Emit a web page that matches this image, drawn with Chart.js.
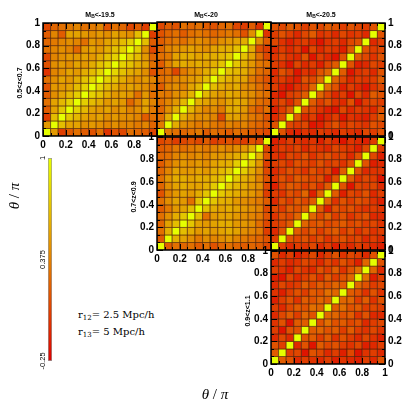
<!DOCTYPE html>
<html><head><meta charset="utf-8">
<script src="https://cdn.jsdelivr.net/npm/chart.js@4.4.0/dist/chart.umd.min.js"></script>
<style>
html,body{margin:0;padding:0;background:#fff;width:407px;height:407px;overflow:hidden}
#wrap{position:relative;width:407px;height:407px}
canvas{position:absolute}
.t{position:absolute;white-space:nowrap;font-family:"Liberation Sans",Arial,sans-serif;color:#000;line-height:1}
.rot{transform:translate(-50%,-50%) rotate(-90deg)}
.ctr{transform:translate(-50%,-50%)}
sub{font-size:70%;vertical-align:-0.25em;line-height:0}
</style></head><body><div id="wrap"></div>
<script>
// ---- data ----
const gridCells = 15;
const axisTicks = [0, 0.2, 0.4, 0.6, 0.8, 1];
const colorMin = -0.25, colorMax = 1;
const colorbarTicks = [-0.25, 0.375, 1];
const colorbarTickLabels = ['-0.25', '0.375', '1'];
const magnitudeTitles = ['-19.5', '-20', '-20.5'];
const redshiftLabels = ['0.5<z<0.7', '0.7<z<0.9', '0.9<z<1.1'];
const scaleTexts = [['12', '= 2.5 Mpc/h'], ['13', '= 5 Mpc/h']];

// lower triangles: row i holds correlation with columns 0..i-1 (diagonal = 1)
const corrM195z06 = [
 [0.5],
 [0.05,0.68],
 [0.2,0.55,0.73],
 [0.3,0.55,0.65,0.78],
 [0.2,0.45,0.55,0.65,0.76],
 [0.15,0.5,0.5,0.55,0.67,0.78],
 [0.3,0.45,0.55,0.5,0.6,0.7,0.8],
 [0.0,0.4,0.45,0.55,0.5,0.6,0.67,0.78],
 [0.15,0.45,0.5,0.45,0.55,0.5,0.6,0.7,0.8],
 [0.1,0.4,0.45,0.5,0.5,0.55,0.5,0.6,0.7,0.78],
 [0.3,0.4,0.45,0.4,0.25,0.5,0.55,0.5,0.6,0.7,0.78],
 [0.25,0.35,0.4,0.45,0.4,0.3,0.5,0.45,0.55,0.6,0.67,0.76],
 [0.2,0.4,0.2,0.55,0.55,0.5,0.45,0.5,0.45,0.55,0.5,0.45,0.68],
 [0.1,0.25,0.3,0.35,0.4,0.3,0.35,0.4,0.15,0.3,0.25,0.1,0.2,0.05]
];
const corrM20z06 = [
 [0.35],
 [0.3,0.6],
 [0.25,0.45,0.62],
 [0.3,0.4,0.5,0.65],
 [0.35,0.35,0.45,0.5,0.62],
 [0.2,0.4,0.45,0.4,0.55,0.65],
 [0.3,0.35,0.4,0.45,0.5,0.55,0.68],
 [0.25,0.3,0.1,0.35,0.45,0.5,0.6,0.7],
 [0.2,0.4,0.55,0.6,0.55,0.6,0.55,0.62,0.7],
 [0.3,0.35,0.55,0.6,0.6,0.55,0.6,0.6,0.65,0.72],
 [0.25,0.4,0.45,0.5,0.55,0.5,0.45,0.55,0.6,0.62,0.7],
 [0.2,0.3,0.35,0.3,0.4,0.45,0.4,0.35,0.45,0.5,0.55,0.6],
 [0.15,0.25,0.3,0.2,0.3,0.35,0.3,0.25,0.3,0.35,0.3,0.15,0.45],
 [0.1,0.2,0.15,0.3,0.25,0.3,0.2,0.15,0.25,0.3,0.1,0.05,0.2,0.0]
];
const corrM205z06 = [
 [0.15],
 [-0.05,0.1],
 [-0.1,0.05,0.2],
 [0.0,0.1,-0.05,0.15],
 [-0.05,-0.15,0.05,0.1,0.2],
 [0.05,-0.1,-0.15,0.0,0.05,0.25],
 [0.0,0.05,-0.05,-0.1,0.15,0.1,0.3],
 [-0.05,0.15,0.05,-0.15,0.0,-0.05,0.15,0.25],
 [0.05,0.0,-0.15,0.1,-0.05,0.05,-0.1,0.1,0.2],
 [0.0,0.1,0.0,-0.05,0.15,-0.15,0.05,-0.05,-0.15,0.15],
 [-0.05,0.05,-0.05,0.05,-0.15,0.1,-0.05,0.05,0.0,-0.1,0.2],
 [0.1,0.0,-0.1,0.0,0.05,-0.05,-0.15,0.0,0.05,-0.05,0.1,0.15],
 [0.05,0.15,0.05,-0.05,0.1,0.2,0.0,0.05,-0.05,0.1,0.0,0.05,-0.05],
 [0.15,0.1,0.2,0.15,0.05,0.15,0.1,0.2,0.15,0.05,0.15,0.1,0.05,0.15]
];
const corrM20z08 = [
 [0.2],
 [0.3,0.62],
 [0.25,0.55,0.68],
 [0.3,0.45,0.6,0.72],
 [0.2,0.35,0.5,0.55,0.68],
 [0.3,0.45,0.55,0.5,0.3,0.7],
 [0.15,0.4,0.5,0.55,0.5,0.6,0.72],
 [0.25,0.45,0.55,0.6,0.55,0.55,0.62,0.74],
 [0.3,0.5,0.6,0.6,0.55,0.6,0.6,0.65,0.72],
 [0.25,0.4,0.55,0.5,0.5,0.55,0.5,0.6,0.65,0.74],
 [0.2,0.35,0.45,0.5,0.45,0.5,0.45,0.55,0.6,0.62,0.76],
 [0.25,0.3,0.4,0.45,0.4,0.45,0.4,0.5,0.5,0.55,0.6,0.72],
 [0.2,0.25,0.35,0.3,0.35,0.4,0.35,0.4,0.45,0.4,0.45,0.5,0.62],
 [0.1,0.15,0.05,0.1,0.15,0.1,0.2,0.05,0.1,0.15,0.1,0.05,0.15,0.1]
];
const corrM205z08 = [
 [0.05],
 [-0.05,0.15],
 [0.05,0.1,0.2],
 [0.0,0.15,0.1,0.25],
 [0.1,0.05,0.2,0.15,0.25],
 [-0.05,0.15,0.05,0.2,0.1,0.2],
 [0.05,0.0,0.15,0.1,0.25,-0.1,0.25],
 [-0.1,0.1,0.2,0.15,0.05,0.15,0.0,0.2],
 [0.0,0.15,0.05,0.2,0.15,0.1,0.15,-0.1,0.15],
 [-0.05,0.05,0.15,0.1,0.0,0.15,0.05,0.1,-0.15,0.2],
 [0.05,0.1,0.0,0.15,0.1,0.05,0.15,0.05,0.1,0.0,0.15],
 [0.0,-0.05,0.1,0.05,0.15,0.0,0.1,0.15,0.05,0.1,-0.05,0.15],
 [-0.05,0.05,0.0,0.1,-0.05,0.05,0.0,-0.05,0.1,0.05,0.0,-0.1,0.1],
 [-0.1,-0.05,0.05,0.0,-0.05,0.0,-0.1,0.05,-0.05,-0.15,0.0,-0.05,-0.1,0.05]
];
const corrM205z10 = [
 [0.2],
 [0.15,0.05],
 [-0.05,0.1,-0.05],
 [0.05,-0.15,0.15,0.15],
 [0.0,0.15,-0.15,0.2,0.2],
 [-0.05,0.1,0.2,0.05,0.25,0.15],
 [0.05,-0.05,0.1,0.2,0.15,0.3,0.25],
 [-0.1,0.05,0.15,0.0,0.2,0.15,0.25,0.2],
 [0.0,-0.1,0.05,0.15,0.05,0.2,0.15,0.3,0.25],
 [-0.05,0.1,0.0,0.05,0.2,0.1,0.2,0.15,0.25,0.2],
 [-0.1,-0.15,0.1,-0.05,0.05,0.15,0.0,0.2,0.05,0.15,0.25],
 [0.05,0.0,-0.1,0.1,0.0,-0.05,0.15,0.05,0.2,0.0,0.15,0.3],
 [-0.05,0.05,-0.05,0.0,0.1,0.05,-0.05,0.1,0.0,0.15,0.05,-0.1,0.25],
 [0.15,-0.05,0.05,-0.1,0.0,0.1,-0.05,0.05,0.15,0.0,0.1,0.05,-0.05,0.15]
];

// ---- layout ----
const PANEL = 114, LW = 30, RW = 30, TP = 8, BH = 18;
const panels = [
 {tri: corrM195z06, left: 43,  top: 22,  L: true,  R: false, B: true,  hideLast: true},
 {tri: corrM20z06,  left: 157, top: 22,  L: false, R: false, B: false, hideLast: true},
 {tri: corrM205z06, left: 271, top: 22,  L: false, R: true,  B: false, hideLast: true},
 {tri: corrM20z08,  left: 157, top: 136, L: true,  R: false, B: true,  hideLast: true},
 {tri: corrM205z08, left: 271, top: 136, L: false, R: true,  B: false, hideLast: true},
 {tri: corrM205z10, left: 271, top: 250, L: true,  R: true,  B: true,  hideLast: false}
];

function heat(v){
  let t = (v - colorMin) / (colorMax - colorMin);
  t = Math.max(0, Math.min(1, t));
  const r = Math.round(222 + 8 * t), g = Math.round(255 * t);
  return 'rgb(' + r + ',' + g + ',0)';
}
function cellValue(tri, i, j){
  if (i === j) return 1;
  return i > j ? tri[i - 1][j] : tri[j - 1][i];
}
const fmt = v => String(Math.round(v * 10) / 10);
const tickFont = {family: '"Liberation Sans", Arial, sans-serif', size: 10, weight: 'bold'};

const frame = {id: 'frame', afterDatasetsDraw(chart){
  const {ctx, chartArea: a, scales: {x, y}} = chart;
  ctx.save();
  ctx.strokeStyle = '#000'; ctx.lineWidth = 1;
  ctx.beginPath();
  for (let k = 0; k <= gridCells; k++){
    const v = k / gridCells, L = (k % 3 === 0) ? 6 : 3;
    const px = Math.round(x.getPixelForValue(v)) + 0.5, py = Math.round(y.getPixelForValue(v)) + 0.5;
    ctx.moveTo(px, a.bottom); ctx.lineTo(px, a.bottom - L);
    ctx.moveTo(px, a.top); ctx.lineTo(px, a.top + L);
    ctx.moveTo(a.left, py); ctx.lineTo(a.left + L, py);
    ctx.moveTo(a.right, py); ctx.lineTo(a.right - L, py);
  }
  ctx.stroke();
  ctx.lineWidth = 1.5;
  ctx.strokeRect(a.left, a.top, a.right - a.left, a.bottom - a.top);
  ctx.restore();
}};

const wrap = document.getElementById('wrap');
function addCanvas(left, top, w, h){
  const c = document.createElement('canvas');
  c.width = w; c.height = h;
  c.style.left = left + 'px'; c.style.top = top + 'px';
  c.style.width = w + 'px'; c.style.height = h + 'px';
  wrap.appendChild(c);
  return c;
}

panels.forEach(p => {
  const pts = [];
  for (let i = 0; i < gridCells; i++)
    for (let j = 0; j < gridCells; j++)
      pts.push({x: (j + 0.5) / gridCells, y: (i + 0.5) / gridCells, v: cellValue(p.tri, i, j)});
  const cv = addCanvas(p.left - LW, p.top - TP, LW + PANEL + RW, TP + PANEL + BH);
  const yTicks = show => ({display: show, stepSize: 0.2, padding: 3, color: '#000', font: tickFont, callback: fmt});
  new Chart(cv, {
    type: 'scatter',
    data: {datasets: [{
      data: pts,
      pointStyle: 'rect',
      pointRadius: c => {
        const s = c.chart.scales.x;
        return Math.abs(s.getPixelForValue(1 / gridCells) - s.getPixelForValue(0)) / Math.SQRT2;
      },
      backgroundColor: c => heat(c.raw ? c.raw.v : 0),
      borderColor: 'rgba(70,25,0,0.7)',
      borderWidth: 0.8
    }]},
    options: {
      responsive: false, animation: false, events: [],
      layout: {padding: {top: TP, left: 0, right: 0, bottom: 0}},
      plugins: {legend: {display: false}, tooltip: {enabled: false}},
      scales: {
        x: {type: 'linear', min: 0, max: 1, position: 'bottom',
            afterFit: s => { s.height = BH; },
            afterBuildTicks: s => { s.ticks = axisTicks.map(v => ({value: v})); },
            grid: {display: false, drawTicks: false}, border: {display: false},
            ticks: {display: p.B, padding: 3, maxRotation: 0, autoSkip: false, color: '#000', font: tickFont,
                    callback: v => (p.hideLast && v === 1) ? '' : fmt(v)}},
        y: {type: 'linear', min: 0, max: 1, position: 'left',
            afterFit: s => { s.width = LW; },
            afterBuildTicks: s => { s.ticks = axisTicks.map(v => ({value: v})); },
            grid: {display: false, drawTicks: false}, border: {display: false}, ticks: yTicks(p.L)},
        y2: {type: 'linear', min: 0, max: 1, position: 'right',
            afterFit: s => { s.width = RW; },
            afterBuildTicks: s => { s.ticks = axisTicks.map(v => ({value: v})); },
            grid: {display: false, drawTicks: false}, border: {display: false}, ticks: yTicks(p.R)}
      }
    },
    plugins: [frame]
  });
});

// ---- colour bar ----
const cbLabels = {id: 'cbLabels', afterDraw(chart){
  const {ctx, chartArea: a, scales: {y}} = chart;
  ctx.save();
  ctx.fillStyle = '#000';
  ctx.font = '7.5px "Liberation Sans", Arial, sans-serif';
  ctx.textAlign = 'center'; ctx.textBaseline = 'middle';
  colorbarTicks.forEach((v, k) => {
    ctx.save();
    ctx.translate(a.left - 5.5, y.getPixelForValue(v));
    ctx.rotate(-Math.PI / 2);
    ctx.fillText(colorbarTickLabels[k], 0, 0);
    ctx.restore();
  });
  ctx.restore();
}};
const cbc = addCanvas(30, 150, 30, 220);
new Chart(cbc, {
  type: 'bar',
  data: {labels: [''], datasets: [{
    data: [[colorMin, colorMax]],
    backgroundColor: c => {
      const a = c.chart.chartArea;
      if (!a) return heat(0.375);
      const g = c.chart.ctx.createLinearGradient(0, a.bottom, 0, a.top);
      for (let k = 0; k <= 10; k++) g.addColorStop(k / 10, heat(colorMin + (colorMax - colorMin) * k / 10));
      return g;
    },
    borderColor: '#999', borderWidth: 1, borderSkipped: false,
    barPercentage: 1, categoryPercentage: 1
  }]},
  options: {
    responsive: false, animation: false, events: [],
    layout: {padding: {left: 18, right: 8, top: 8, bottom: 9}},
    plugins: {legend: {display: false}, tooltip: {enabled: false}},
    scales: {x: {display: false}, y: {display: false, min: colorMin, max: colorMax}}
  },
  plugins: [cbLabels]
});

// ---- texts ----
function addText(html, x, y, cls, style){
  const d = document.createElement('div');
  d.className = 't ' + cls;
  d.innerHTML = html;
  d.style.left = x + 'px'; d.style.top = y + 'px';
  Object.assign(d.style, style || {});
  wrap.appendChild(d);
}
const esc = s => s.replace(/</g, '&lt;');
const titleX = [100, 206, 321];
magnitudeTitles.forEach((m, k) => addText('M<sub>B</sub>' + esc('<' + m), titleX[k], 14, 'ctr', {fontSize: '7px', fontWeight: 'bold'}));
redshiftLabels.forEach((z, k) => addText(esc(z), [19, 133, 247][k], [83, 197, 311][k], 'rot', {fontSize: '7px', fontWeight: 'bold'}));
addText('<i>θ</i> / <i>π</i>', 14, 196, 'rot', {fontFamily: '"Liberation Serif", serif', fontSize: '15px'});
addText('<i>θ</i> / <i>π</i>', 215, 394, 'ctr', {fontFamily: '"Liberation Serif", serif', fontSize: '15px'});
scaleTexts.forEach((s, k) => addText('r<sub>' + s[0] + '</sub>' + s[1], 78, [310, 327][k], '', {fontFamily: '"DejaVu Serif", serif', fontSize: '10px'}));
</script>
</body></html>
